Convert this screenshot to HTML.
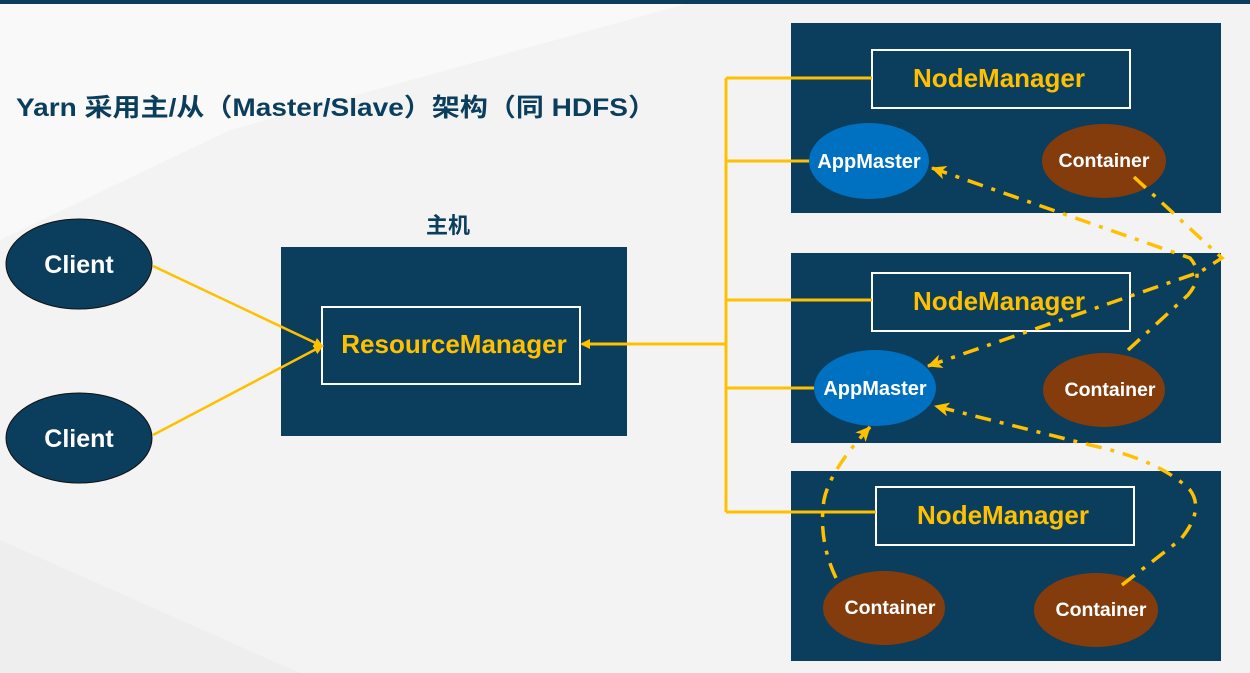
<!DOCTYPE html>
<html><head><meta charset="utf-8"><style>
html,body{margin:0;padding:0;width:1250px;height:673px;overflow:hidden;background:#f4f4f5}
svg{display:block}
text{font-family:"Liberation Sans","Noto Sans CJK SC",sans-serif;font-weight:bold}
</style></head><body>
<svg width="1250" height="673" viewBox="0 0 1250 673" xmlns="http://www.w3.org/2000/svg">
<defs>
<marker id="ar" markerWidth="10" markerHeight="10" refX="8" refY="5" orient="auto" markerUnits="userSpaceOnUse">
<path d="M0,0 L10,5 L0,10 Z" fill="#ffc000"/></marker>
<marker id="ar2" markerWidth="16" markerHeight="16" refX="14" refY="8" orient="auto" markerUnits="userSpaceOnUse">
<path d="M0,1 L15,8 L0,15 L4,8 Z" fill="#ffc000"/></marker>
</defs>
<rect width="1250" height="673" fill="#f3f3f4"/>
<polygon points="0,0 700,0 230,130 0,240" fill="#f9f9f9"/>
<polygon points="0,540 300,673 0,673" fill="#eeeeef"/>
<rect x="0" y="0" width="1250" height="4" fill="#0b3d5c"/>
<text x="16" y="116" font-size="25" fill="#0b3d5c" textLength="640" lengthAdjust="spacingAndGlyphs">Yarn 采用主/从（Master/Slave）架构（同 HDFS）</text>
<text x="426" y="233" font-size="22" fill="#0b3d5c">主机</text>

<ellipse cx="79" cy="264" rx="73" ry="45" fill="#0b3d5c" stroke="#111" stroke-width="1"/>
<text x="79" y="273" font-size="25" fill="#fff" text-anchor="middle">Client</text>
<ellipse cx="79" cy="438" rx="73" ry="45" fill="#0b3d5c" stroke="#111" stroke-width="1"/>
<text x="79" y="447" font-size="25" fill="#fff" text-anchor="middle">Client</text>

<rect x="281" y="247" width="346" height="189" fill="#0b3d5c"/>
<rect x="322" y="307" width="258" height="77" fill="none" stroke="#fff" stroke-width="2"/>
<text x="454" y="353" font-size="26" fill="#ffc000" text-anchor="middle">ResourceManager</text>

<line x1="153" y1="266" x2="322" y2="346" stroke="#ffc000" stroke-width="2.5" marker-end="url(#ar)"/>
<line x1="153" y1="435" x2="322" y2="346" stroke="#ffc000" stroke-width="2.5" marker-end="url(#ar)"/>

<rect x="791" y="23" width="430" height="190" fill="#0b3d5c"/>
<rect x="791" y="253" width="430" height="190" fill="#0b3d5c"/>
<rect x="791" y="471" width="430" height="190" fill="#0b3d5c"/>

<g fill="none" stroke="#fff" stroke-width="2">
<rect x="872" y="50" width="258" height="58"/>
<rect x="872" y="273" width="258" height="58"/>
<rect x="876" y="487" width="258" height="58"/>
</g>
<g font-size="26" fill="#ffc000" text-anchor="middle">
<text x="999" y="87">NodeManager</text>
<text x="999" y="310">NodeManager</text>
<text x="1003" y="524">NodeManager</text>
</g>

<g stroke="#ffc000" stroke-width="3" fill="none">
<line x1="726" y1="78" x2="726" y2="512"/>
<line x1="726" y1="78" x2="872" y2="78"/>
<line x1="726" y1="161" x2="809" y2="161"/>
<line x1="726" y1="300" x2="872" y2="300"/>
<line x1="726" y1="388" x2="814" y2="388"/>
<line x1="726" y1="512" x2="876" y2="512"/>
<line x1="726" y1="344" x2="582" y2="344" marker-end="url(#ar)"/>
</g>

<ellipse cx="869" cy="161" rx="60" ry="38" fill="#0070c0"/>
<text x="869" y="168" font-size="20" fill="#fff" text-anchor="middle">AppMaster</text>
<ellipse cx="875" cy="388" rx="61" ry="38" fill="#0070c0"/>
<text x="875" y="395" font-size="20" fill="#fff" text-anchor="middle">AppMaster</text>
<g fill="#843c0c">
<ellipse cx="1104" cy="161" rx="62" ry="37"/>
<ellipse cx="1104" cy="390" rx="61" ry="37"/>
<ellipse cx="884" cy="608" rx="61" ry="37"/>
<ellipse cx="1096" cy="610" rx="62" ry="37"/>
</g>
<g font-size="19.5" fill="#fff" text-anchor="middle">
<text x="1104" y="167">Container</text>
<text x="1110" y="396">Container</text>
<text x="890" y="614">Container</text>
<text x="1101" y="616">Container</text>
</g>

<g stroke="#ffc000" stroke-width="3.5" fill="none" stroke-dasharray="16,9,4,9">
<path d="M1134,177 L1222,258 L1200,272 L928,366" marker-end="url(#ar2)"/>
<path d="M1128,350 L1188,295 Q1205,275 1190,258 L932,168" marker-end="url(#ar2)"/>
<path d="M836,578 Q818,540 824,500 Q830,470 870,427" marker-end="url(#ar2)"/>
<path d="M1122,585 L1180,540 Q1205,510 1190,490 Q1160,460 1090,445 L935,406" marker-end="url(#ar2)"/>
</g>
</svg>
</body></html>
